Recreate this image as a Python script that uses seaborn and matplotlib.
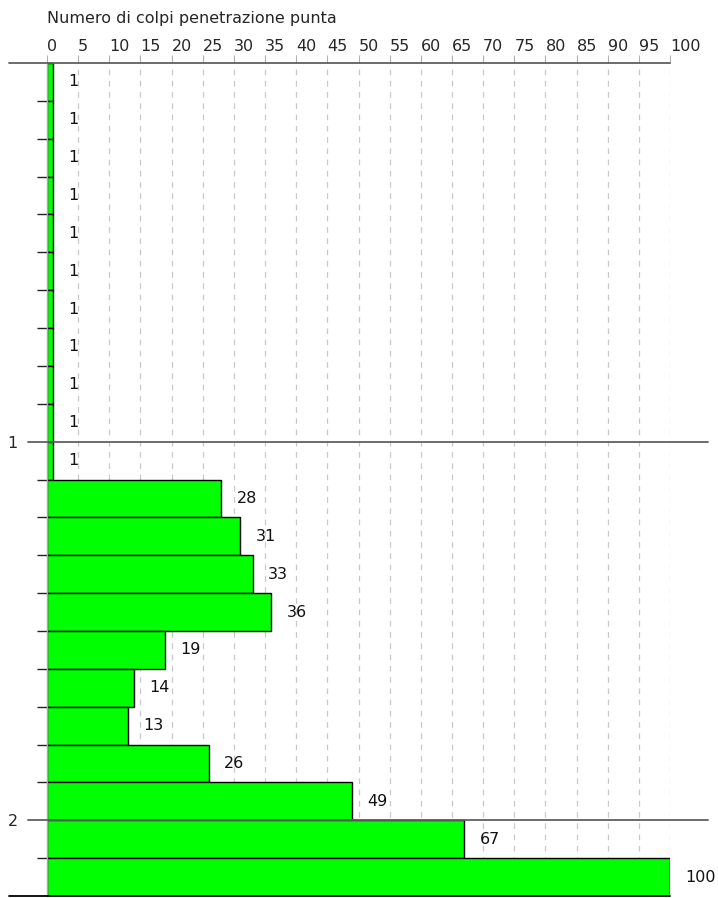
import seaborn as sns
import matplotlib.pyplot as plt
import pandas as pd

# profondita (centro di ogni intervallo da 0.1 m) e numero di colpi
profondita = [0.05, 0.15, 0.25, 0.35, 0.45, 0.55, 0.65, 0.75, 0.85, 0.95, 1.05,
              1.15, 1.25, 1.35, 1.45, 1.55, 1.65, 1.75, 1.85, 1.95, 2.05, 2.15]
colpi = [1, 1, 1, 1, 1, 1, 1, 1, 1, 1, 1,
         28, 31, 33, 36, 19, 14, 13, 26, 49, 67, 100]
x_ticks = list(range(0, 101, 5))
y_minor = [0.1, 0.2, 0.3, 0.4, 0.5, 0.6, 0.7, 0.8, 0.9, 1.1, 1.2,
           1.3, 1.4, 1.5, 1.6, 1.7, 1.8, 1.9, 2.1]
y_major = [1, 2]
titolo = 'Numero di colpi penetrazione punta'

sns.set_style('white')
plt.rcParams['font.family'] = ['DejaVu Sans']
fs = 11.5

df = pd.DataFrame({'prof': profondita, 'colpi': colpi})

fig = plt.figure(figsize=(7.18, 8.98), dpi=100)
ax = fig.add_axes([47 / 718, 1 - 896 / 898, 623 / 718, 833 / 898])

sns.barplot(data=df, x='colpi', y='prof', orient='h', native_scale=True,
            width=1, color='#00ff00', saturation=1, edgecolor='black',
            linewidth=1, ax=ax, zorder=2)

for p, v in zip(profondita, colpi):
    ax.annotate(str(v), (v, p), xytext=(11, 0), textcoords='offset points',
                ha='left', va='center', fontsize=fs, color='#111111')

ax.set_xlim(0, 100)
ax.set_ylim(2.2, 0)

# asse x in alto
ax.xaxis.tick_top()
ax.set_xticks(x_ticks)
ax.set_xticklabels([str(t) for t in x_ticks])
for lab in ax.get_xticklabels():
    lab.set_ha('left')
ax.tick_params(axis='x', length=5.8, color='#b0b0b0', pad=1, labelsize=fs)
ax.xaxis.set_label_position('top')
ax.set_xlabel(titolo, loc='left', labelpad=11, fontsize=fs)

# asse y
ax.set_yticks(y_major)
ax.set_yticklabels(['1', '2'])
ax.set_yticks(y_minor, minor=True)
ax.tick_params(axis='y', which='major', length=0, pad=21, labelsize=fs)
ax.tick_params(axis='y', which='minor', length=7.2, width=1, color='#222222', left=True)
ax.set_ylabel('')

ax.xaxis.grid(True, linestyle=(0, (4.5, 4.5)), color='#c8c8c8', linewidth=0.9)
ax.yaxis.grid(False)
ax.set_axisbelow(True)

for s in ['top', 'right', 'bottom']:
    ax.spines[s].set_visible(False)
ax.spines['left'].set_color('#a8a8a8')
ax.spines['left'].set_linewidth(1)

ax.axhline(0, xmin=-38 / 623, xmax=1, color='#606060', linewidth=1.3, clip_on=False, zorder=3)
ax.axhline(2.2, xmin=-38 / 623, xmax=1, color='#000000', linewidth=1.3, clip_on=False, zorder=3)
for y in y_major:
    ax.axhline(y, xmin=-19 / 623, xmax=661 / 623, color='#606060', linewidth=1.3,
               clip_on=False, zorder=3)

fig.savefig('out.png', dpi=100)
